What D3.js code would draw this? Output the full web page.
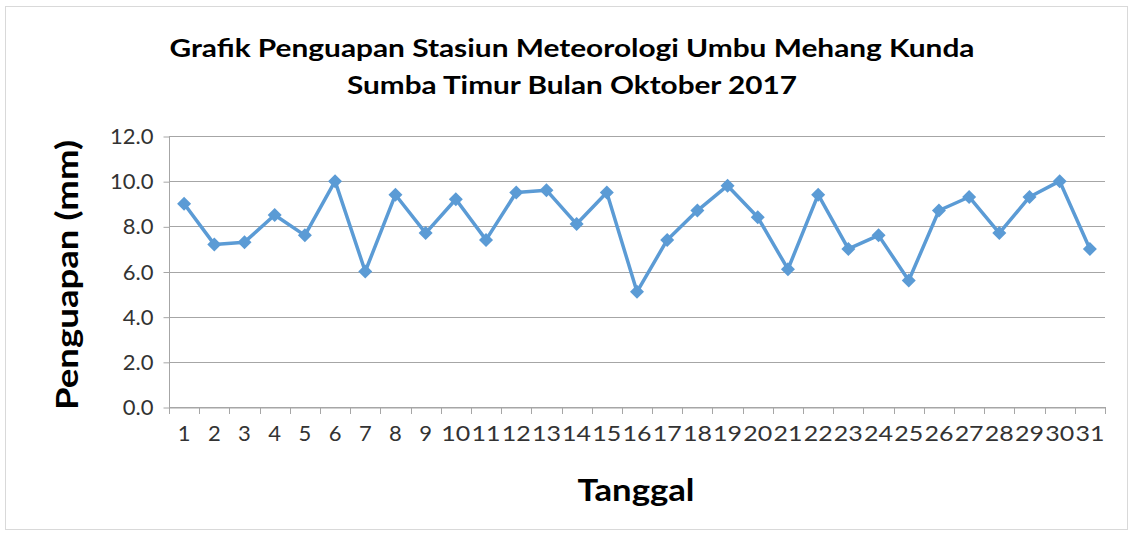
<!DOCTYPE html>
<html>
<head>
<meta charset="utf-8">
<script src="https://cdn.jsdelivr.net/npm/d3@7"></script>
<style>
  body { margin: 0; background: #fff; }
  text { font-family: Lato, "Open Sans", sans-serif; }
</style>
</head>
<body>
<div id="chart"></div>
<script>
var days = d3.range(1, 32).map(String);
var penguapan = [9.0, 7.2, 7.3, 8.5, 7.6, 10.0, 6.0, 9.4, 7.7, 9.2, 7.4,
                 9.5, 9.6, 8.1, 9.5, 5.1, 7.4, 8.7, 9.8, 8.4, 6.1,
                 9.4, 7.0, 7.6, 5.6, 8.7, 9.3, 7.7, 9.3, 10.0, 7.0];
var yTicks = [0, 2, 4, 6, 8, 10, 12];
var titleLines = ['Grafik Penguapan  Stasiun Meteorologi Umbu Mehang Kunda',
                  'Sumba Timur Bulan Oktober 2017'];

var w = 1142, h = 537;
var plotLeft = 169, plotRight = 1105, plotTop = 136, plotBottom = 407;

var svg = d3.select('#chart').append('svg')
    .attr('width', w)
    .attr('height', h);

// chart border
svg.append('rect')
    .attr('x', 5.5).attr('y', 6.5)
    .attr('width', 1122).attr('height', 523)
    .attr('fill', 'none')
    .attr('stroke', '#d9d9d9');

var x = d3.scaleBand().domain(days).range([plotLeft, plotRight]);
var y = d3.scaleLinear().domain([0, 12]).range([plotBottom, plotTop]);

// gridlines
svg.selectAll('.grid')
    .data(yTicks)
    .enter()
    .append('line')
    .attr('x1', plotLeft)
    .attr('x2', plotRight)
    .attr('y1', function(d) { return Math.round(y(d)) + 0.5; })
    .attr('y2', function(d) { return Math.round(y(d)) + 0.5; })
    .style('stroke', '#a6a6a6')
    .style('stroke-width', 1);

// y axis
var yAxis = svg.append('g')
    .attr('transform', 'translate(' + (plotLeft + 0.5) + ',0.5)')
    .call(d3.axisLeft(y).tickValues(yTicks).tickFormat(d3.format('.1f')).tickSize(6).tickPadding(10));
yAxis.select('.domain').attr('stroke', '#a6a6a6').attr('d', 'M0,' + plotTop + 'V' + plotBottom);
yAxis.selectAll('.tick line').attr('stroke', '#a6a6a6');
yAxis.selectAll('.tick text')
    .attr('fill', '#333')
    .attr('font-family', 'Lato, sans-serif')
    .style('font-size', '22px');

// x axis
var xAxis = svg.append('g')
    .attr('transform', 'translate(0,' + (plotBottom + 0.5) + ')')
    .call(d3.axisBottom(x).tickSize(0).tickPadding(18));
xAxis.select('.domain').attr('stroke', '#a6a6a6');
xAxis.selectAll('.tick text')
    .attr('fill', '#333')
    .attr('font-family', 'Lato, sans-serif')
    .style('font-size', '22px')
    .attr('dy', '0.71em')
    .each(function(d) {
      if (d.length > 1) {
        d3.select(this).attr('textLength', 29).attr('lengthAdjust', 'spacingAndGlyphs');
      }
    });

// x tick marks at category boundaries
var bounds = days.map(function(d) { return x(d); }).concat([plotRight]);
svg.selectAll('.xtick')
    .data(bounds)
    .enter()
    .append('line')
    .attr('x1', function(d) { return Math.round(d) + 0.5; })
    .attr('x2', function(d) { return Math.round(d) + 0.5; })
    .attr('y1', plotBottom)
    .attr('y2', plotBottom + 7)
    .style('stroke', '#a6a6a6');

var cx = function(d, i) { return x(days[i]) + x.bandwidth() / 2; };

// line
var line = d3.line()
    .x(function(d, i) { return cx(d, i); })
    .y(function(d) { return y(d); });

svg.append('path')
    .datum(penguapan)
    .attr('d', line)
    .attr('fill', 'none')
    .attr('stroke', '#5b9bd5')
    .attr('stroke-width', 3.5)
    .attr('stroke-linejoin', 'round');

// diamond markers
svg.selectAll('.marker')
    .data(penguapan)
    .enter()
    .append('path')
    .attr('d', d3.symbol().type(d3.symbolDiamond2).size(125))
    .attr('transform', function(d, i) { return 'translate(' + cx(d, i) + ',' + y(d) + ')'; })
    .attr('fill', '#5b9bd5');

// title
var titleWidths = [805, 450];
svg.selectAll('.title')
    .data(titleLines)
    .enter()
    .append('text')
    .attr('x', 572)
    .attr('y', function(d, i) { return 57 + i * 37; })
    .attr('text-anchor', 'middle')
    .style('font-size', '24px')
    .style('font-weight', 'bold')
    .attr('textLength', function(d, i) { return titleWidths[i]; })
    .attr('lengthAdjust', 'spacingAndGlyphs')
    .attr('fill', '#000')
    .text(function(d) { return d; });

// axis titles
svg.append('text')
    .attr('x', 636)
    .attr('y', 501)
    .attr('text-anchor', 'middle')
    .style('font-size', '30px')
    .style('font-weight', 'bold')
    .attr('textLength', 117)
    .attr('lengthAdjust', 'spacingAndGlyphs')
    .text('Tanggal');

svg.append('text')
    .attr('transform', 'translate(78,275) rotate(-90)')
    .attr('text-anchor', 'middle')
    .style('font-size', '30px')
    .style('font-weight', 'bold')
    .attr('textLength', 270)
    .attr('lengthAdjust', 'spacingAndGlyphs')
    .text('Penguapan (mm)');
</script>
</body>
</html>
